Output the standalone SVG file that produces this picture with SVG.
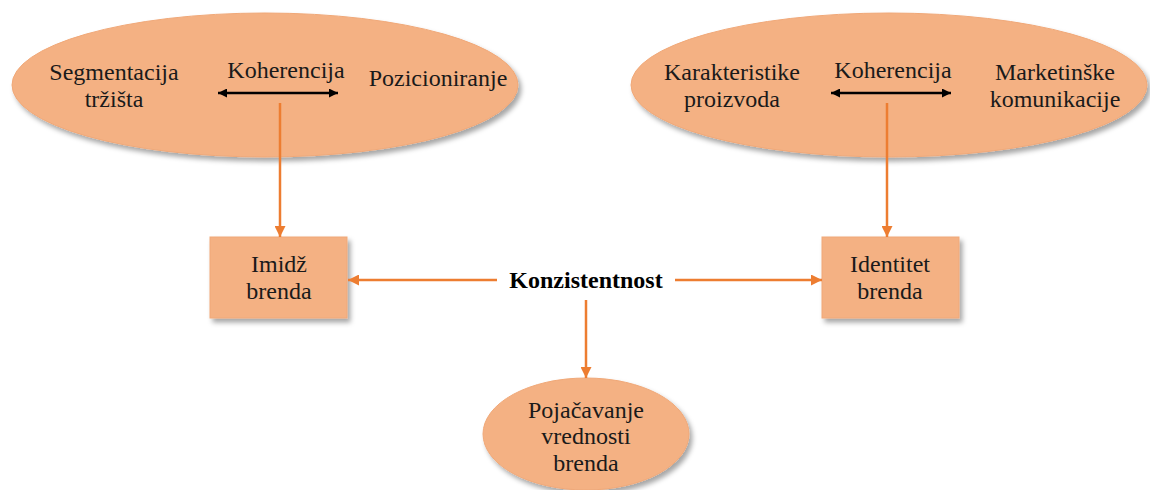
<svg xmlns="http://www.w3.org/2000/svg" width="1150" height="490" viewBox="0 0 1150 490">
  <style>
    .shape { fill: #F4B183; stroke: #F0A878; stroke-width: 1; filter: url(#shadow); }
    .lbl { font-size: 24px; fill: #1a1a1a; text-anchor: middle; }
    .bold { font-weight: bold; fill: #000; }
    .flow { stroke: #ED7D31; stroke-width: 2.5; fill: none; marker-end: url(#orangeHead); }
    .coh { stroke: #000; stroke-width: 2.5; fill: none; marker-start: url(#blackHeadStart); marker-end: url(#blackHead); }
  </style>
  <defs>
    <filter id="shadow" x="-10%" y="-10%" width="125%" height="130%">
      <feDropShadow dx="3" dy="4" stdDeviation="2.5" flood-color="#000" flood-opacity="0.35"/>
    </filter>
    <marker id="orangeHead" viewBox="0 0 10 10" refX="10" refY="5" markerWidth="4.4" markerHeight="4.4" markerUnits="strokeWidth" orient="auto">
      <path d="M0,0 L10,5 L0,10 Z" fill="#ED7D31"/>
    </marker>
    <marker id="blackHead" viewBox="0 0 10 10" refX="10" refY="5" markerWidth="4.4" markerHeight="3.6" markerUnits="strokeWidth" orient="auto">
      <path d="M0,0 L10,5 L0,10 Z" fill="#000"/>
    </marker>
    <marker id="blackHeadStart" viewBox="0 0 10 10" refX="0" refY="5" markerWidth="4.4" markerHeight="3.6" markerUnits="strokeWidth" orient="auto">
      <path d="M10,0 L0,5 L10,10 Z" fill="#000"/>
    </marker>
  </defs>

  <rect width="1150" height="490" fill="#fff"/>

  <g font-family="Liberation Serif, Times New Roman, Tinos, serif">
  <!-- upper-left cluster: segmentation / positioning -->
  <g id="market-ellipse">
    <ellipse class="shape" cx="265" cy="85" rx="253" ry="72"/>
    <text class="lbl" x="114" y="80">Segmentacija</text>
    <text class="lbl" x="114" y="107">tržišta</text>
    <text class="lbl" x="286" y="78">Koherencija</text>
    <text class="lbl" x="438" y="86">Pozicioniranje</text>
  </g>

  <!-- upper-right cluster: product / communications -->
  <g id="product-ellipse">
    <ellipse class="shape" cx="889" cy="85" rx="258" ry="72"/>
    <text class="lbl" x="732" y="80">Karakteristike</text>
    <text class="lbl" x="732" y="107">proizvoda</text>
    <text class="lbl" x="893" y="78">Koherencija</text>
    <text class="lbl" x="1055" y="80">Marketinške</text>
    <text class="lbl" x="1055" y="107">komunikacije</text>
  </g>

  <g id="image-box">
    <rect class="shape" x="210" y="237" width="137" height="81"/>
    <text class="lbl" x="279" y="272">Imidž</text>
    <text class="lbl" x="279" y="299">brenda</text>
  </g>

  <g id="identity-box">
    <rect class="shape" x="822" y="237" width="137" height="81"/>
    <text class="lbl" x="890" y="272">Identitet</text>
    <text class="lbl" x="890" y="299">brenda</text>
  </g>

  <g id="consistency">
    <text class="lbl bold" x="586" y="288">Konzistentnost</text>
  </g>

  <g id="value-ellipse">
    <ellipse class="shape" cx="586" cy="434" rx="103" ry="56"/>
    <text class="lbl" x="586" y="418">Pojačavanje</text>
    <text class="lbl" x="586" y="444">vrednosti</text>
    <text class="lbl" x="586" y="471">brenda</text>
  </g>
  </g>

  <g id="connectors">
    <line class="coh" x1="218" y1="93" x2="338" y2="93"/>
    <line class="coh" x1="831" y1="93" x2="951" y2="93"/>
    <line class="flow" x1="280" y1="103" x2="280" y2="237"/>
    <line class="flow" x1="887" y1="103" x2="887" y2="237"/>
    <line class="flow" x1="497" y1="280" x2="348" y2="280"/>
    <line class="flow" x1="675" y1="280" x2="822" y2="280"/>
    <line class="flow" x1="586" y1="300" x2="586" y2="378"/>
  </g>
</svg>
